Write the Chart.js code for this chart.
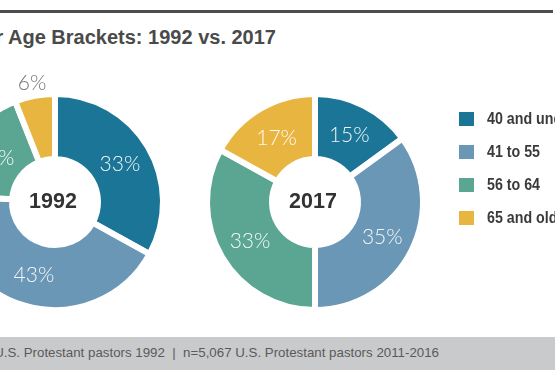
<!DOCTYPE html>
<html>
<head>
<meta charset="utf-8">
<script src="https://cdn.jsdelivr.net/npm/chart.js@4.4.1/dist/chart.umd.min.js"></script>
<style>
  html, body { margin:0; padding:0; width:555px; height:370px; overflow:hidden; background:#fff; }
  body { position:relative; font-family:"Liberation Sans", Arial, sans-serif; }
  .topline { position:absolute; left:0; top:10px; width:553px; height:3px; background:#4d4d4d; }
  .title { position:absolute; right:279px; top:26px; white-space:nowrap; text-align:right;
           font-family:"Liberation Sans", Arial, sans-serif; font-weight:bold; font-size:20px; color:#4a4a4a; }
  .footer { position:absolute; left:0; top:337px; width:555px; height:33px; background:#c9cacc; }
  .footnote { position:absolute; right:116px; top:345px; white-space:pre; text-align:right;
              font-family:"Liberation Sans", Arial, sans-serif; font-size:13.3px; color:#5a5a5a; }
  canvas { position:absolute; }
  .legend { position:absolute; left:459px; top:0; }
  .item { position:absolute; left:0; white-space:nowrap; }
  .sw { position:absolute; left:0; width:15px; height:14px; }
  .lt { position:absolute; left:28px; top:-2px; font-family:"Liberation Sans", Arial, sans-serif;
        font-weight:bold; font-size:16px; color:#3a3a3a; line-height:18px;
        transform:scaleX(0.89); transform-origin:0 0; }
</style>
</head>
<body>
<div class="topline"></div>
<div class="title" id="title"></div>
<canvas id="c1992" width="300" height="300"></canvas>
<canvas id="c2017" width="300" height="300"></canvas>
<div class="legend" id="legend"></div>
<div class="footer"></div>
<div class="footnote" id="foot"></div>
<script>
// ---- data ----
const titleText = "Pastor Age Brackets: 1992 vs. 2017";
const footText = "U.S. Protestant pastors 1992  |  n=5,067 U.S. Protestant pastors 2011-2016";
const categories = ["40 and under", "41 to 55", "56 to 64", "65 and older"];
const years = ["1992", "2017"];
const values1992 = [33, 43, 18, 6];
const values2017 = [15, 35, 33, 17];
const colors = ["#1b7596", "#6a97b5", "#5aa692", "#e9b541"];

document.getElementById('title').textContent = titleText;
document.getElementById('foot').textContent = footText;

// legend
const legend = document.getElementById('legend');
categories.forEach((c, i) => {
  const it = document.createElement('div');
  it.className = 'item';
  it.style.top = (112 + i * 33) + 'px';
  const sw = document.createElement('div');
  sw.className = 'sw'; sw.style.background = colors[i];
  const t = document.createElement('div');
  t.className = 'lt'; t.textContent = c;
  it.appendChild(sw); it.appendChild(t);
  legend.appendChild(it);
});

const labelPlugin = {
  id: 'labels',
  afterDatasetsDraw(chart) {
    const ctx = chart.ctx;
    const meta = chart.getDatasetMeta(0);
    const vals = chart.data.datasets[0].data;
    ctx.save();
    ctx.textAlign = 'center';
    ctx.textBaseline = 'middle';
    meta.data.forEach((arc, i) => {
      const p = arc.getProps(['x','y','startAngle','endAngle','innerRadius','outerRadius'], true);
      const mid = (p.startAngle + p.endAngle) / 2;
      let r, color;
      if (vals[i] < 10) { r = p.outerRadius + 14; color = '#777777'; }
      else { r = (p.innerRadius + p.outerRadius) / 2; color = 'rgba(255,255,255,0.93)'; }
      ctx.font = '300 21px "Lato", "Open Sans", sans-serif';
      ctx.fillStyle = color;
      ctx.fillText(vals[i] + '%', p.x + Math.cos(mid) * r, p.y + Math.sin(mid) * r + 1);
    });
    const a = meta.data[0];
    ctx.font = 'bold 21.5px "Liberation Sans", Arial, sans-serif';
    ctx.fillStyle = '#333333';
    ctx.fillText(chart.options.plugins.centerText, a.x - 2, a.y);
    ctx.restore();
  }
};

const outerR = 108;       // includes half of the white border
const innerR = 43;

function makeChart(id, values, year, cx, cy) {
  const cv = document.getElementById(id);
  cv.style.left = (cx - 150) + 'px';
  cv.style.top = (cy - 150) + 'px';
  return new Chart(cv, {
    type: 'doughnut',
    data: {
      labels: categories,
      datasets: [{
        data: values,
        backgroundColor: colors,
        borderColor: '#ffffff',
        borderWidth: 6,
        hoverOffset: 0
      }]
    },
    options: {
      responsive: false,
      animation: false,
      radius: outerR,
      cutout: (innerR / outerR * 100) + '%',
      layout: { padding: 0 },
      events: [],
      plugins: {
        legend: { display: false },
        tooltip: { enabled: false },
        centerText: year
      }
    },
    plugins: [labelPlugin]
  });
}

makeChart('c1992', values1992, years[0], 55, 202);
makeChart('c2017', values2017, years[1], 315, 202);
</script>
</body>
</html>
